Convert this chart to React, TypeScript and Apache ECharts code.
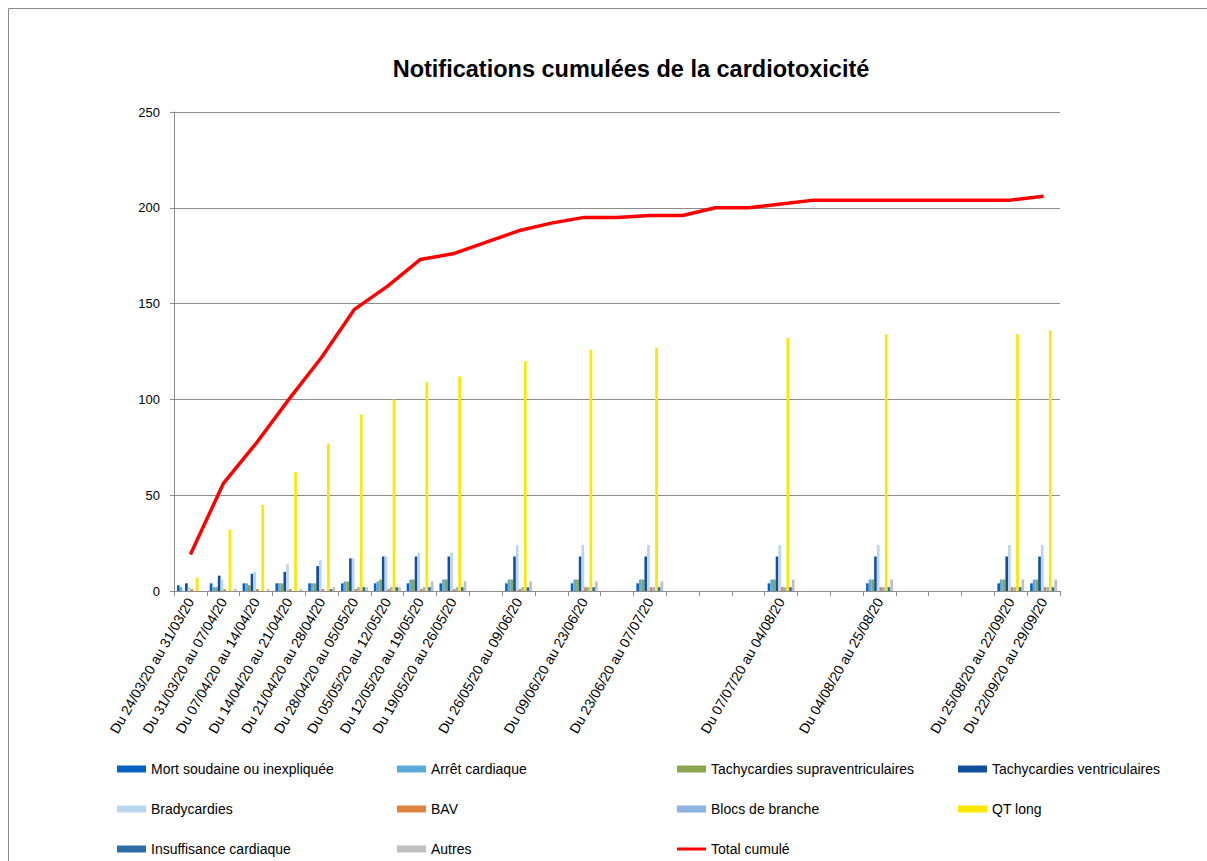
import React, { useEffect, useRef } from "react";
import * as echarts from "echarts";

const N = null;

const periodLabels = [
  "Du 24/03/20 au 31/03/20", "Du 31/03/20 au 07/04/20", "Du 07/04/20 au 14/04/20",
  "Du 14/04/20 au 21/04/20", "Du 21/04/20 au 28/04/20", "Du 28/04/20 au 05/05/20",
  "Du 05/05/20 au 12/05/20", "Du 12/05/20 au 19/05/20", "Du 19/05/20 au 26/05/20",
  "", "Du 26/05/20 au 09/06/20", "", "Du 09/06/20 au 23/06/20", "",
  "Du 23/06/20 au 07/07/20", "", "", "", "Du 07/07/20 au 04/08/20", "", "",
  "Du 04/08/20 au 25/08/20", "", "", "", "Du 25/08/20 au 22/09/20", "Du 22/09/20 au 29/09/20",
];

const yTicks = [0, 50, 100, 150, 200, 250];

const mortSoudaine = [3, 4, 4, 4, 4, 4, 4, 4, 4, N, 4, N, 4, N, 4, N, N, N, 4, N, N, 4, N, N, N, 4, 4];
const arretCardiaque = [2, 2, 4, 4, 4, 5, 5, 6, 6, N, 6, N, 6, N, 6, N, N, N, 6, N, N, 6, N, N, N, 6, 6];
const tachySupra = [0, 2, 3, 4, 4, 5, 6, 6, 6, N, 6, N, 6, N, 6, N, N, N, 6, N, N, 6, N, N, N, 6, 6];
const tachyVentri = [4, 8, 9, 10, 13, 17, 18, 18, 18, N, 18, N, 18, N, 18, N, N, N, 18, N, N, 18, N, N, N, 18, 18];
const bradycardies = [2, 6, 10, 14, 16, 17, 18, 20, 20, N, 24, N, 24, N, 24, N, N, N, 24, N, N, 24, N, N, N, 24, 24];
const bav = [1, 1, 1, 1, 1, 1, 1, 1, 1, N, 1, N, 2, N, 2, N, N, N, 2, N, N, 2, N, N, N, 2, 2];
const blocsBranche = [0, 0, 0, 0, 0, 2, 2, 2, 2, N, 2, N, 2, N, 2, N, N, N, 2, N, N, 2, N, N, N, 2, 2];
const qtLong = [7, 32, 45, 62, 77, 92, 100, 109, 112, N, 120, N, 126, N, 127, N, N, N, 132, N, N, 134, N, N, N, 134, 136];
const insuffisance = [0, 0, 0, 0, 1, 2, 2, 2, 2, N, 2, N, 2, N, 2, N, N, N, 2, N, N, 2, N, N, N, 2, 2];
const autres = [0, 1, 1, 1, 2, 2, 2, 5, 5, N, 5, N, 5, N, 5, N, N, N, 6, N, N, 6, N, N, N, 6, 6];
const totalCumule = [19, 56, 77, 100, 122, 147, 159, 173, 176, 182, 188, 192, 195, 195, 196, 196, 200, 200, 202, 204, 204, 204, 204, 204, 204, 204, 206];

const barSeries = [
  { name: "Mort soudaine ou inexpliquée", data: mortSoudaine, color: "#0862C2" },
  { name: "Arrêt cardiaque", data: arretCardiaque, color: "#5BAADC" },
  { name: "Tachycardies supraventriculaires", data: tachySupra, color: "#8AA651" },
  { name: "Tachycardies ventriculaires", data: tachyVentri, color: "#0F4F9E" },
  { name: "Bradycardies", data: bradycardies, color: "#BAD5EE" },
  { name: "BAV", data: bav, color: "#DC8340" },
  { name: "Blocs de branche", data: blocsBranche, color: "#8EB2E2" },
  { name: "QT long", data: qtLong, color: "#FAE800" },
  { name: "Insuffisance cardiaque", data: insuffisance, color: "#2C6CA7" },
  { name: "Autres", data: autres, color: "#BFBFBF" },
];

const FONT = "'Liberation Sans', Arial, sans-serif";

export default function App() {
  const ref = useRef<HTMLDivElement>(null);
  useEffect(() => {
    if (!ref.current) return;
    const chart = echarts.init(ref.current, null, { renderer: "svg" });
    const legendBase = {
      orient: "vertical",
      top: 761,
      padding: 0,
      itemWidth: 29,
      itemHeight: 7,
      itemGap: 24,
      selectedMode: false,
      textStyle: { fontSize: 14, color: "#000", lineHeight: 16, fontFamily: FONT },
    };
    const r = (name: string) => ({ name, icon: "rect" });
    chart.setOption({
      animation: false,
      backgroundColor: "#fff",
      title: {
        text: "Notifications cumulées de la cardiotoxicité",
        left: 631,
        top: 57,
        padding: 0,
        textAlign: "center",
        textStyle: { fontSize: 23.5, fontWeight: "bold", color: "#000", fontFamily: FONT },
      },
      graphic: [
        {
          type: "rect",
          shape: { x: 8.5, y: 8.5, width: 1260, height: 900 },
          style: { fill: "none", stroke: "#8a8a8a", lineWidth: 1 },
          silent: true,
        },
      ],
      legend: [
        { ...legendBase, left: 117, data: [r("Mort soudaine ou inexpliquée"), r("Bradycardies"), r("Insuffisance cardiaque")] },
        { ...legendBase, left: 397, data: [r("Arrêt cardiaque"), r("BAV"), r("Autres")] },
        {
          ...legendBase,
          left: 677,
          data: [
            r("Tachycardies supraventriculaires"),
            r("Blocs de branche"),
            { name: "Total cumulé", icon: "path://M0,0M0,7M0,2H29V5H0Z", itemStyle: { color: "#FF0000" } },
          ],
        },
        { ...legendBase, left: 958, data: [r("Tachycardies ventriculaires"), r("QT long")] },
      ],
      grid: { left: 174, right: 147, top: 112, bottom: 270, containLabel: false },
      xAxis: {
        type: "category",
        data: periodLabels,
        boundaryGap: true,
        axisLine: { show: true, lineStyle: { color: "#8c8c8c", width: 1 } },
        axisTick: { show: true, interval: 0, length: 5, lineStyle: { color: "#8c8c8c" } },
        axisLabel: { interval: 0, rotate: 60, margin: 8, fontSize: 14, color: "#000", fontFamily: FONT },
        splitLine: { show: false },
      },
      yAxis: {
        type: "value",
        min: yTicks[0],
        max: yTicks[yTicks.length - 1],
        interval: yTicks[1] - yTicks[0],
        axisLine: { show: true, lineStyle: { color: "#8c8c8c", width: 1 } },
        axisTick: { show: true, length: 4, lineStyle: { color: "#8c8c8c" } },
        axisLabel: { margin: 14, fontSize: 13, color: "#000", fontFamily: FONT },
        splitLine: { show: true, lineStyle: { color: "#8c8c8c", width: 1 } },
      },
      series: [
        ...barSeries.map((s) => ({
          type: "bar",
          name: s.name,
          data: s.data,
          barGap: "0%",
          barCategoryGap: "18%",
          itemStyle: { color: s.color },
        })),
        {
          type: "line",
          name: "Total cumulé",
          data: totalCumule,
          symbol: "none",
          showSymbol: false,
          lineStyle: { color: "#FF0000", width: 3.5 },
          itemStyle: { color: "#FF0000" },
          z: 5,
        },
      ],
    });
    return () => chart.dispose();
  }, []);
  return (
    <div
      ref={ref}
      style={{ position: "absolute", left: 0, top: 0, width: 1207, height: 861, overflow: "hidden" }}
    />
  );
}
